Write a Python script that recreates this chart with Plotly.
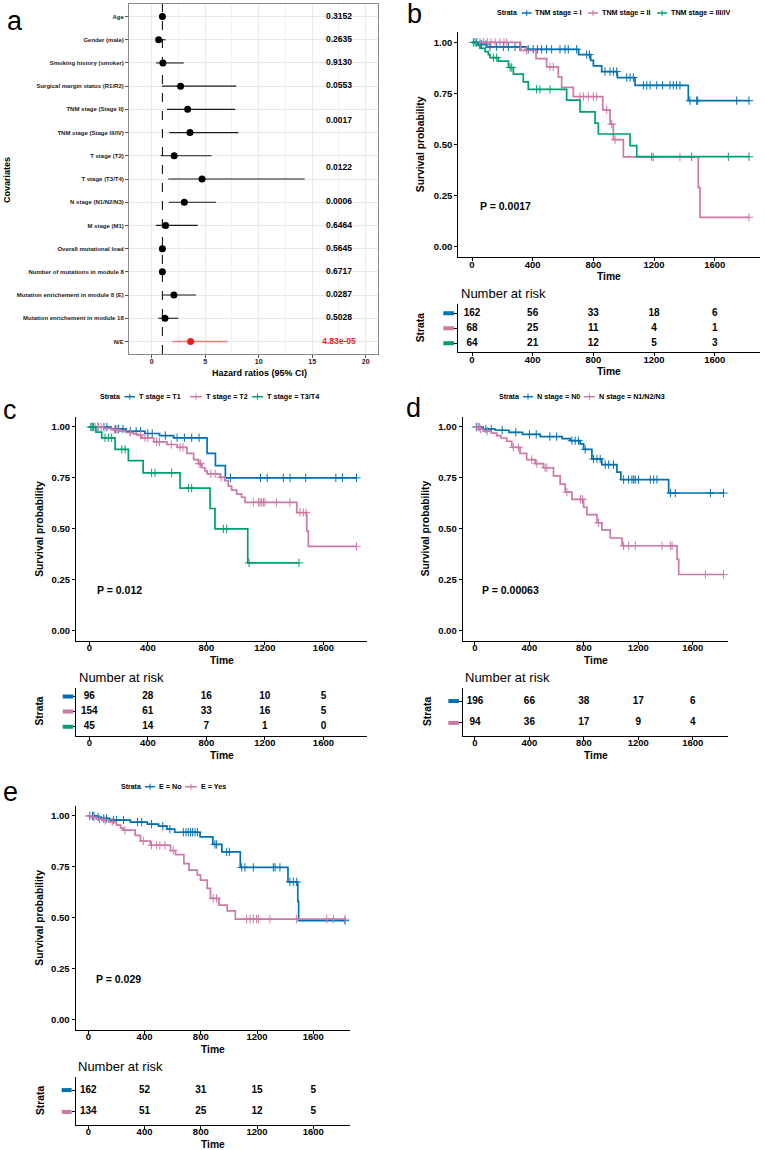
import plotly.graph_objects as go

W, H = 765, 1150
FONT = "Liberation Sans"
BLUE, PINK, GREEN = "#0072B2", "#CC79A7", "#009E73"


def fx(p):
    return p / W


def fy(p):
    return 1 - p / H


# ---------------- Panel a : forest plot data ----------------
covariates = ["Age", "Gender (male)", "Smoking history (smoker)", "Surgical margin status (R1/R2)",
              "TNM stage (Stage II)", "TNM stage (Stage III/IV)", "T stage (T2)", "T stage (T3/T4)",
              "N stage (N1/N2/N3)", "M stage (M1)", "Overall mutational load",
              "Number of mutations in module 8", "Mutation enrichement in module 8 (E)",
              "Mutation enrichement in module 18", "N/E"]
hr = [1.0, 0.65, 1.05, 2.7, 3.36, 3.58, 2.1, 4.7, 3.05, 1.3, 1.0, 1.0, 2.08, 1.24, 3.64]
hr_lo = [0.98, 0.4, 0.4, 0.96, 1.43, 1.65, 0.84, 1.55, 1.59, 0.4, 0.98, 0.97, 1.03, 0.62, 1.93]
hr_hi = [1.02, 1.3, 3.0, 7.9, 7.8, 8.1, 5.6, 14.3, 6.0, 4.3, 1.02, 1.03, 4.14, 2.49, 7.1]
p_text = ["0.3152", "0.2635", "0.9130", "0.0553", "0.0017", "0.0122", "0.0006", "0.6464",
          "0.5645", "0.6717", "0.0287", "0.5028", "4.83e-05"]
p_rows = [[1], [2], [3], [4], [5, 6], [7, 8], [9], [10], [11], [12], [13], [14], [15]]
hr_ticks = [0, 5, 10, 15, 20]

# ---------------- KM data ----------------
time_ticks = [0, 400, 800, 1200, 1600]

# panel b : TNM stage
bI_t = [40, 97, 360, 703, 782, 800, 855, 958, 1075, 1426]
bI_s = [0.99, 0.978, 0.966, 0.94, 0.912, 0.885, 0.857, 0.828, 0.79, 0.715]
bI_c = [31, 53, 64, 92, 119, 163, 207, 240, 284, 316, 371, 404, 431, 459, 492, 525, 580, 613, 635,
        690, 756, 774, 877, 910, 932, 954, 1020, 1042, 1064, 1130, 1152, 1174, 1218, 1257, 1305,
        1327, 1349, 1371, 1437, 1481, 1488, 1745, 1826]
bII_t = [321, 422, 492, 569, 591, 668, 862, 910, 932, 998, 1492, 1503]
bII_s = [0.96, 0.92, 0.88, 0.83, 0.78, 0.735, 0.67, 0.60, 0.525, 0.44, 0.29, 0.145]
bII_c = [53, 75, 101, 125, 152, 185, 211, 229, 360, 514, 536, 712, 734, 767, 800, 822, 888, 921,
         943, 1196, 1371, 1826]
bIII_t = [31, 53, 86, 108, 119, 174, 240, 273, 338, 371, 624, 712, 811, 833, 1042, 1086]
bIII_s = [0.985, 0.97, 0.955, 0.94, 0.925, 0.908, 0.877, 0.845, 0.807, 0.77, 0.718, 0.66, 0.605,
          0.552, 0.495, 0.441]
bIII_c = [9, 20, 141, 163, 251, 262, 426, 448, 514, 1185, 1448, 1690, 1826]
b_risk = [[162, 56, 33, 18, 6], [68, 25, 11, 4, 1], [64, 21, 12, 5, 3]]
b_labels = ["TNM stage = I", "TNM stage = II", "TNM stage = III/IV"]

# panel c : T stage
cT1_t = [150, 250, 380, 480, 576, 805, 862, 930]
cT1_s = [0.99, 0.979, 0.968, 0.958, 0.947, 0.87, 0.81, 0.75]
cT1_c = [30, 60, 100, 120, 180, 200, 230, 280, 320, 350, 400, 430, 520, 600, 650, 700, 750, 965,
         1170, 1216, 1326, 1372, 1479, 1685, 1730, 1826]
cT2_t = [100, 150, 200, 250, 300, 330, 359, 440, 530, 600, 667, 713, 745, 770, 790, 805, 893, 927,
         950, 973, 1007, 1041, 1064, 1418, 1486, 1497]
cT2_s = [0.993, 0.987, 0.98, 0.973, 0.966, 0.96, 0.947, 0.927, 0.914, 0.90, 0.87, 0.84, 0.82, 0.80,
         0.785, 0.77, 0.753, 0.737, 0.71, 0.69, 0.67, 0.655, 0.63, 0.58, 0.49, 0.414]
cT2_c = [20, 40, 60, 80, 170, 190, 280, 350, 380, 400, 460, 480, 560, 620, 640, 750, 760, 830, 860,
         900, 1121, 1156, 1167, 1178, 1190, 1201, 1280, 1371, 1440, 1463, 1481, 1826]
cT3_t = [45, 85, 176, 267, 368, 620, 825, 859, 1083]
cT3_s = [0.975, 0.947, 0.89, 0.835, 0.775, 0.70, 0.60, 0.50, 0.333]
cT3_c = [10, 20, 107, 130, 153, 222, 245, 426, 449, 563, 677, 700, 916, 939, 1092, 1433]
c_risk = [[96, 28, 16, 10, 5], [154, 61, 33, 16, 5], [45, 14, 7, 1, 0]]
c_labels = ["T stage = T1", "T stage = T2", "T stage = T3/T4"]

# panel d : N stage
dN0_t = [60, 150, 250, 350, 480, 640, 700, 773, 798, 859, 932, 1043, 1072, 1423]
dN0_s = [0.99, 0.984, 0.974, 0.964, 0.953, 0.943, 0.933, 0.917, 0.89, 0.843, 0.815, 0.778, 0.742,
         0.676]
dN0_c = [10, 30, 80, 120, 200, 300, 400, 450, 550, 600, 712, 736, 761, 810, 871, 896, 920, 957, 982,
         1018, 1092, 1129, 1153, 1166, 1178, 1202, 1288, 1313, 1337, 1436, 1472, 1730, 1826]
dN1_t = [30, 60, 120, 160, 190, 233, 270, 331, 380, 442, 503, 577, 626, 663, 712, 798, 822, 896,
         932, 994, 1080, 1485, 1497]
dN1_s = [0.99, 0.98, 0.97, 0.958, 0.946, 0.93, 0.90, 0.87, 0.84, 0.82, 0.80, 0.76, 0.72, 0.68,
         0.645, 0.606, 0.57, 0.53, 0.495, 0.455, 0.417, 0.35, 0.276]
dN1_c = [15, 40, 90, 282, 319, 417, 454, 515, 528, 675, 775, 790, 908, 1092, 1129, 1178, 1374,
         1436, 1448, 1693, 1826]
d_risk = [[196, 66, 38, 17, 6], [94, 36, 17, 9, 4]]
d_labels = ["N stage = N0", "N stage = N1/N2/N3"]

# panel e : module 8 enrichment
eNo_t = [60, 90, 150, 300, 420, 500, 560, 615, 795, 886, 950, 1081, 1420, 1490, 1496]
eNo_s = [0.994, 0.988, 0.98, 0.97, 0.96, 0.95, 0.935, 0.92, 0.897, 0.86, 0.823, 0.747, 0.676,
         0.58, 0.485]
eNo_c = [10, 30, 40, 70, 110, 130, 180, 200, 250, 350, 380, 450, 530, 580, 676, 695, 711, 728, 742,
         759, 776, 901, 913, 984, 1003, 1091, 1114, 1174, 1316, 1328, 1363, 1434, 1458, 1482, 1826]
eYes_t = [20, 60, 100, 150, 200, 230, 248, 333, 371, 442, 585, 621, 680, 716, 775, 798, 846, 869,
          929, 988, 1046]
eYes_s = [0.993, 0.985, 0.978, 0.97, 0.955, 0.94, 0.93, 0.905, 0.877, 0.856, 0.83, 0.81, 0.766,
          0.734, 0.71, 0.685, 0.644, 0.595, 0.562, 0.533, 0.493]
eYes_c = [10, 40, 80, 120, 170, 260, 391, 450, 486, 509, 545, 604, 888, 912, 1126, 1150, 1174,
          1197, 1209, 1292, 1482, 1696, 1743, 1826]
e_risk = [[162, 52, 31, 15, 5], [134, 51, 25, 12, 5]]
e_labels = ["E = No", "E = Yes"]

p_values = {"b": "P = 0.0017", "c": "P = 0.012", "d": "P = 0.00063", "e": "P = 0.029"}


# ---------------- helpers ----------------
def surv_at(t, times, surv):
    s = 1.0
    for ti, si in zip(times, surv):
        if ti <= t:
            s = si
    return s


fig = go.Figure()
shapes = []
annotations = []


def ann(text, x, y, size, bold=False, xanchor="center", angle=0, color="black"):
    annotations.append(dict(text=f"<b>{text}</b>" if bold else text, x=fx(x), y=fy(y),
                            xref="paper", yref="paper", showarrow=False, xanchor=xanchor,
                            yanchor="middle", textangle=angle,
                            font=dict(family=FONT, size=size, color=color)))


# ---------------- Panel a ----------------
rows = list(range(1, len(covariates) + 1))
n_main = len(covariates) - 1
fig.add_trace(go.Scatter(
    x=hr[:n_main], y=rows[:n_main], mode="markers", xaxis="x", yaxis="y",
    marker=dict(color="black", size=7),
    error_x=dict(type="data", symmetric=False,
                 array=[h - p for h, p in zip(hr_hi[:n_main], hr[:n_main])],
                 arrayminus=[p - l for p, l in zip(hr[:n_main], hr_lo[:n_main])],
                 color="#1a1a1a", thickness=1.1, width=0),
    showlegend=False, hoverinfo="skip"))
fig.add_trace(go.Scatter(
    x=hr[n_main:], y=rows[n_main:], mode="markers", xaxis="x", yaxis="y",
    marker=dict(color="#EE1C1C", size=7),
    error_x=dict(type="data", symmetric=False,
                 array=[h - p for h, p in zip(hr_hi[n_main:], hr[n_main:])],
                 arrayminus=[p - l for p, l in zip(hr[n_main:], hr_lo[n_main:])],
                 color="#F07878", thickness=1.4, width=0),
    showlegend=False, hoverinfo="skip"))
p_y = [sum(r) / len(r) for r in p_rows]
fig.add_trace(go.Scatter(
    x=[17.5] * len(p_text), y=p_y, text=p_text, mode="text", xaxis="x", yaxis="y",
    textfont=dict(family=FONT, size=8.5, weight="bold",
                  color=["black"] * (len(p_text) - 1) + ["#EE1C1C"]),
    showlegend=False, hoverinfo="skip"))
shapes.append(dict(type="line", xref="x", yref="y domain", x0=1, x1=1, y0=0, y1=1,
                   line=dict(color="black", width=1, dash="dash")))

layout = dict(width=W, height=H, margin=dict(l=0, r=0, t=0, b=0), paper_bgcolor="white",
              plot_bgcolor="white", showlegend=False, font=dict(family=FONT, color="black"))

layout["xaxis"] = dict(domain=[fx(129), fx(378)], range=[-2.12, 21.15], tickvals=hr_ticks,
                       ticktext=[str(v) for v in hr_ticks], showgrid=True, gridcolor="#e8e8e8",
                       gridwidth=1,
                       minor=dict(dtick=2.5, tick0=0, showgrid=True, gridcolor="#f1f1f1",
                                  gridwidth=0.8),
                       showline=True, mirror=True, linecolor="#8a8a8a", linewidth=1,
                       ticks="outside", ticklen=3, tickcolor="#555", zeroline=False,
                       ticklabelstandoff=-2,
                       tickfont=dict(family=FONT, size=7, weight="bold", color="#222"),
                       anchor="y")
layout["yaxis"] = dict(domain=[fy(354), fy(4)], range=[15.54, 0.46], tickvals=rows,
                       ticktext=covariates, showgrid=True, gridcolor="#e8e8e8",
                       showline=True, mirror=True, linecolor="#8a8a8a", linewidth=1,
                       ticks="outside", ticklen=3, tickcolor="#555", zeroline=False,
                       tickfont=dict(family=FONT, size=6, weight="bold", color="#222"),
                       anchor="x")
ann("a", 15, 21, 27)
ann("Covariates", 7, 180, 9, bold=True, angle=-90)
ann("Hazard ratios (95% CI)", 259, 373, 9, bold=True)

# ---------------- KM panels ----------------
panels = [
    dict(key="b", main=2, rax=3, xdom=(458.2, 760.2), xr=1900, ydom=(32.1, 257.2),
         rdom=(304.1, 352.4),
         strata=[(bI_t, bI_s, bI_c, BLUE), (bII_t, bII_s, bII_c, PINK),
                 (bIII_t, bIII_s, bIII_c, GREEN)],
         risk=b_risk, labels=b_labels, letter=(415, 14), sp_x=420.5, time_y=276.7,
         nar=(459, 293), rtime_y=371.7, strata_x=420, dash=(443.3, 454),
         leg_y=13, leg_items=[(521.7, 531.7, 533), (588, 598, 600), (657, 667, 668.5)]),
    dict(key="c", main=4, rax=5, xdom=(76.0, 367.3), xr=1900, ydom=(416.8, 640.9),
         rdom=(687.5, 735.7),
         strata=[(cT1_t, cT1_s, cT1_c, BLUE), (cT2_t, cT2_s, cT2_c, PINK),
                 (cT3_t, cT3_s, cT3_c, GREEN)],
         risk=c_risk, labels=c_labels, letter=(10, 410), sp_x=40, time_y=660,
         nar=(77, 677.3), rtime_y=755.7, strata_x=40, dash=(62.7, 73.3),
         leg_y=396.7, leg_items=[(124.5, 135, 137), (190, 202, 203.5), (252, 263, 265)]),
    dict(key="d", main=6, rax=7, xdom=(462.6, 728.4), xr=1862, ydom=(416.8, 640.9),
         rdom=(688, 736),
         strata=[(dN0_t, dN0_s, dN0_c, BLUE), (dN1_t, dN1_s, dN1_c, PINK)],
         risk=d_risk, labels=d_labels, letter=(413, 408), sp_x=425.5, time_y=660,
         nar=(463, 677.3), rtime_y=755.7, strata_x=427, dash=(448.3, 459),
         leg_y=396.7, leg_items=[(523, 533, 534.5), (584, 595, 597)]),
    dict(key="e", main=8, rax=9, xdom=(75.5, 350.1), xr=1862, ydom=(805.8, 1029.5),
         rdom=(1077, 1125),
         strata=[(eNo_t, eNo_s, eNo_c, BLUE), (eYes_t, eYes_s, eYes_c, PINK)],
         risk=e_risk, labels=e_labels, letter=(10, 792), sp_x=40, time_y=1049,
         nar=(76, 1066.7), rtime_y=1144, strata_x=40, dash=(61.7, 71.7),
         leg_y=786.7, leg_items=[(145, 155, 157), (185, 197, 198.5)]),
]

tick_font = dict(family=FONT, size=9.5, weight="bold", color="black")


def x_axis(dom, xr, anchor):
    return dict(domain=[fx(dom[0]), fx(dom[1])], range=[-91, xr], tickvals=time_ticks,
                ticktext=[str(v) for v in time_ticks], showline=True, linecolor="black",
                linewidth=1, ticks="outside", ticklen=3, tickwidth=1, tickcolor="black",
                ticklabelstandoff=-5,
                tickfont=tick_font, showgrid=False, zeroline=False, anchor=anchor)


for P in panels:
    m, r = P["main"], P["rax"]
    xm, ym, xrk, yrk = f"x{m}", f"y{m}", f"x{r}", f"y{r}"
    for times, surv, cens, col in P["strata"]:
        tmax = max(cens + times)
        xs = [0] + times + [tmax]
        ys = [1.0] + surv + [surv[-1]]
        fig.add_trace(go.Scatter(x=xs, y=ys, mode="lines", xaxis=xm, yaxis=ym,
                                 line=dict(color=col, width=1.7, shape="hv"),
                                 showlegend=False, hoverinfo="skip"))
        fig.add_trace(go.Scatter(x=cens, y=[surv_at(t, times, surv) for t in cens],
                                 mode="markers", xaxis=xm, yaxis=ym,
                                 marker=dict(symbol="cross-thin", size=6, color=col,
                                             line=dict(color=col, width=1)),
                                 showlegend=False, hoverinfo="skip"))
    layout[f"xaxis{m}"] = x_axis(P["xdom"], P["xr"], ym)
    layout[f"yaxis{m}"] = dict(domain=[fy(P["ydom"][1]), fy(P["ydom"][0])], range=[-0.05, 1.05],
                               tickvals=[0, 0.25, 0.5, 0.75, 1.0],
                               ticktext=["0.00", "0.25", "0.50", "0.75", "1.00"],
                               showline=True, linecolor="black", linewidth=1, ticks="outside",
                               ticklen=3, tickwidth=1, tickcolor="black", tickfont=tick_font,
                               showgrid=False, zeroline=False, anchor=xm)
    n = len(P["risk"])
    layout[f"xaxis{r}"] = x_axis(P["xdom"], P["xr"], yrk)
    layout[f"yaxis{r}"] = dict(domain=[fy(P["rdom"][1]), fy(P["rdom"][0])], range=[n + 0.6, 0.4],
                               tickvals=list(range(1, n + 1)), showticklabels=False,
                               showline=True, linecolor="black", linewidth=1, ticks="outside",
                               ticklen=3, tickwidth=1, tickcolor="black",
                               showgrid=False, zeroline=False, anchor=xrk)
    for i, counts in enumerate(P["risk"]):
        fig.add_trace(go.Scatter(x=time_ticks, y=[i + 1] * len(counts),
                                 text=[str(c) for c in counts], mode="text",
                                 xaxis=xrk, yaxis=yrk,
                                 textfont=dict(family=FONT, size=10, weight="bold",
                                               color="black"),
                                 showlegend=False, hoverinfo="skip"))
        col = P["strata"][i][3]
        shapes.append(dict(type="line", xref="paper", yref=yrk, x0=fx(P["dash"][0]),
                           x1=fx(P["dash"][1]), y0=i + 1, y1=i + 1,
                           line=dict(color=col, width=4)))
    # p-value
    annotations.append(dict(text=f"<b>{p_values[P['key']]}</b>", x=40, y=0.2, xref=xm, yref=ym,
                            showarrow=False, xanchor="left", yanchor="middle",
                            font=dict(family=FONT, size=10.5, color="black")))
    cx = (P["xdom"][0] + P["xdom"][1]) / 2
    ann(P["key"], P["letter"][0], P["letter"][1], 27)
    ann("Survival probability", P["sp_x"], (P["ydom"][0] + P["ydom"][1]) / 2, 10.3, bold=True,
        angle=-90)
    ann("Time", cx, P["time_y"], 10.3, bold=True)
    ann("Number at risk", P["nar"][0], P["nar"][1], 13, xanchor="left")
    ann("Time", cx, P["rtime_y"], 10.3, bold=True)
    ann("Strata", P["strata_x"], (P["rdom"][0] + P["rdom"][1]) / 2, 10.3, bold=True, angle=-90)
    # legend
    ly = P["leg_y"]
    ann("Strata", P["leg_items"][0][0] - 2.5, ly, 7, bold=True, xanchor="right")
    for (x1, x2, tx), lab, st in zip(P["leg_items"], P["labels"], P["strata"]):
        col = st[3]
        shapes.append(dict(type="line", xref="paper", yref="paper", x0=fx(x1), x1=fx(x2),
                           y0=fy(ly), y1=fy(ly), line=dict(color=col, width=1.5)))
        mx = (x1 + x2) / 2
        shapes.append(dict(type="line", xref="paper", yref="paper", x0=fx(mx), x1=fx(mx),
                           y0=fy(ly - 3), y1=fy(ly + 3), line=dict(color=col, width=1)))
        ann(lab, tx, ly, 7.2, bold=True, xanchor="left")

layout["shapes"] = shapes
layout["annotations"] = annotations
fig.update_layout(**layout)
fig.write_html("out.html", config={"displayModeBar": False},
               post_script="document.body.style.margin='0';")
